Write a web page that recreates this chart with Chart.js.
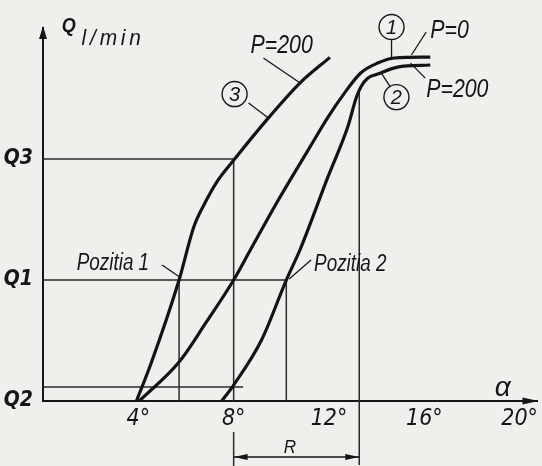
<!DOCTYPE html>
<html>
<head>
<meta charset="utf-8">
<script src="https://cdn.jsdelivr.net/npm/chart.js@4.4.1/dist/chart.umd.min.js"></script>
<style>
  html, body { margin: 0; padding: 0; background: #f0efeb; }
  #wrap { width: 542px; height: 466px; position: relative; }
</style>
</head>
<body>
<div id="wrap"><canvas id="flowChart"></canvas></div>
<script>
// angle alpha (deg) and flow Q (Q1 = 1, Q3 = 2)
const curve1Alpha = [4.04, 5.71, 6.83, 8.0, 8.70, 9.875, 11.125, 11.96, 12.65, 13.33, 14.04, 14.75, 16.25];
const curve1Q     = [0, 0.322, 0.645, 1.0, 1.248, 1.661, 2.074, 2.347, 2.545, 2.711, 2.793, 2.835, 2.843];   // P=0
const curve2Alpha = [7.5, 8.0, 9.17, 10.21, 10.78, 11.96, 12.79, 13.15, 13.35, 13.625, 14.04, 14.875, 16.25];
const curve2Q     = [0, 0.132, 0.504, 1.0, 1.248, 1.854, 2.267, 2.51, 2.60, 2.667, 2.702, 2.76, 2.777];    // P=200
const curve3Alpha = [3.92, 4.54, 5.71, 6.33, 6.75, 7.29, 8.0, 9.46, 10.79, 12.04];
const curve3Q     = [0, 0.314, 1.0, 1.44, 1.62, 1.81, 1.99, 2.34, 2.63, 2.84];                              // P=200

const levelQ1 = 1, levelQ2 = 0.116, levelQ3 = 2;
const pozitia1 = 5.71, pozitia2 = 10.21, alphaQ3 = 8, alphaR = 13.27;

const xTickValues = [4, 8, 12, 16, 20];
const xTickLabels = ['4°', '8°', '12°', '16°', '20°'];
const yTickValues = [0, 1, 2];
const yTickLabels = ['Q2', 'Q1', 'Q3'];

function pts(xs, ys) {
    return xs.map(function(x, i) { return {x: x, y: ys[i]}; });
}

function curve(xs, ys) {
    return {
        data: pts(xs, ys),
        showLine: true,
        borderColor: '#141414',
        borderWidth: 3.2,
        pointRadius: 0,
        cubicInterpolationMode: 'monotone'
    };
}

function guide(xs, ys, noClip) {
    return {
        data: pts(xs, ys),
        showLine: true,
        borderColor: '#2a2a2a',
        borderWidth: 1.5,
        pointRadius: 0,
        clip: noClip ? false : undefined
    };
}

const narrow = "'Liberation Sans', Arial, sans-serif";

function text(ctx, str, x, y, size, bold, sx) {
    ctx.save();
    ctx.translate(x, y);
    ctx.scale(sx || 0.82, 1);
    ctx.font = 'italic ' + (bold ? 'bold ' : '') + size + 'px ' + narrow;
    ctx.fillStyle = '#161616';
    ctx.textBaseline = 'alphabetic';
    ctx.fillText(str, 0, 0);
    ctx.restore();
}

function seg(ctx, x1, y1, x2, y2, w) {
    ctx.beginPath();
    ctx.lineWidth = w || 1.3;
    ctx.moveTo(x1, y1);
    ctx.lineTo(x2, y2);
    ctx.stroke();
}

function arrowHead(ctx, x, y, dx, dy, len, half) {
    ctx.beginPath();
    ctx.moveTo(x, y);
    ctx.lineTo(x - dx * len - dy * half, y - dy * len + dx * half);
    ctx.lineTo(x - dx * len + dy * half, y - dy * len - dx * half);
    ctx.closePath();
    ctx.fill();
}

const notes = {
    id: 'notes',
    afterDraw: function(chart) {
        const ctx = chart.ctx;
        const sx = chart.scales.x, sy = chart.scales.y;
        const X = function(a) { return sx.getPixelForValue(a); };
        const Y = function(q) { return sy.getPixelForValue(q); };
        const area = chart.chartArea;
        ctx.save();
        ctx.strokeStyle = '#161616';
        ctx.fillStyle = '#161616';

        // axis arrows
        arrowHead(ctx, area.left, area.top - 2, 0, -1, 13, 4);
        arrowHead(ctx, area.right + 1, area.bottom, 1, 0, 16, 3.5);

        // axis titles
        text(ctx, 'Q', X(0.79), Y(3.05), 20, true, 0.9);
        ctx.save();
        ctx.letterSpacing = '4px';
        text(ctx, 'l/min', X(1.62), Y(2.94), 22, false, 0.95);
        ctx.restore();
        text(ctx, 'α', X(18.96), Y(0.04), 28, false, 1);

        // P labels and leaders
        text(ctx, 'P=200', X(8.71), Y(2.876), 26);
        seg(ctx, X(9.25), Y(2.835), X(10.79), Y(2.628));
        text(ctx, 'P=0', X(16.25), Y(3.0), 26);
        seg(ctx, X(16.08), Y(3.05), X(15.46), Y(2.86));
        text(ctx, 'P=200', X(16.08), Y(2.512), 26);
        seg(ctx, X(16.04), Y(2.669), X(15.42), Y(2.793));

        // circled curve numbers
        const circles = [['3', 8.04, 2.537], ['1', 14.625, 3.091], ['2', 14.83, 2.512]];
        circles.forEach(function(c) {
            ctx.beginPath();
            ctx.lineWidth = 1.4;
            ctx.arc(X(c[1]), Y(c[2]), 12.5, 0, Math.PI * 2);
            ctx.stroke();
            ctx.save();
            ctx.textAlign = 'center';
            ctx.font = 'italic 20px ' + narrow;
            ctx.textBaseline = 'middle';
            ctx.fillText(c[0], X(c[1]), Y(c[2]) + 1);
            ctx.restore();
        });
        seg(ctx, X(8.625), Y(2.463), X(9.458), Y(2.339));
        seg(ctx, X(14.625), Y(2.983), X(14.625), Y(2.835));
        seg(ctx, X(14.17), Y(2.719), X(14.58), Y(2.595));

        // positions
        text(ctx, 'Pozitia 1', X(1.417), Y(1.083), 23);
        seg(ctx, X(5.0), Y(1.124), X(5.79), Y(1.017));
        text(ctx, 'Pozitia 2', X(11.375), Y(1.074), 23);
        seg(ctx, X(11.25), Y(1.165), X(10.33), Y(1.008));

        // R range
        const yR = Y(-0.463);
        seg(ctx, X(alphaQ3), yR, X(alphaR), yR, 1.6);
        arrowHead(ctx, X(alphaQ3), yR, -1, 0, 14, 3);
        arrowHead(ctx, X(alphaR), yR, 1, 0, 14, 3);
        text(ctx, 'R', X(10.1), Y(-0.43), 19, false, 0.9);
        ctx.restore();
    }
};

const flowCtx = document.getElementById('flowChart');
if (flowCtx) {
    new Chart(flowCtx, {
        type: 'scatter',
        data: {
            datasets: [
                curve(curve1Alpha, curve1Q),
                curve(curve2Alpha, curve2Q),
                curve(curve3Alpha, curve3Q),
                guide([0, alphaQ3], [levelQ3, levelQ3]),
                guide([alphaQ3, alphaQ3], [levelQ3, 0]),
                guide([alphaQ3, alphaQ3], [-0.256, -0.537], true),
                guide([0, pozitia2], [levelQ1, levelQ1]),
                guide([pozitia1, pozitia1], [levelQ1, 0]),
                guide([pozitia2, pozitia2], [levelQ1, 0]),
                guide([0, 8.4], [levelQ2, levelQ2]),
                guide([alphaR, alphaR], [2.56, -0.53], true)
            ]
        },
        options: {
            responsive: true,
            maintainAspectRatio: false,
            animation: false,
            layout: { padding: { top: 28, right: 1, left: 0, bottom: 0 } },
            plugins: {
                legend: { display: false },
                tooltip: { enabled: false }
            },
            scales: {
                x: {
                    type: 'linear',
                    min: 0,
                    max: 20.75,
                    grid: { display: false, drawTicks: false },
                    border: { display: true, color: '#161616', width: 2 },
                    afterBuildTicks: function(scale) {
                        scale.ticks = xTickValues.map(function(v) { return {value: v}; });
                    },
                    afterFit: function(scale) { scale.height = 65; },
                    ticks: {
                        padding: 4,
                        color: '#161616',
                        font: { family: "'Liberation Sans Narrow', 'DejaVu Sans Condensed', 'Liberation Sans'", size: 23, style: 'italic' },
                        callback: function(value) {
                            return xTickLabels[xTickValues.indexOf(value)];
                        }
                    }
                },
                y: {
                    type: 'linear',
                    min: 0,
                    max: 3.083,
                    grid: { display: false, drawTicks: false },
                    border: { display: true, color: '#161616', width: 2 },
                    afterBuildTicks: function(scale) {
                        scale.ticks = yTickValues.map(function(v) { return {value: v}; });
                    },
                    afterFit: function(scale) { scale.width = 43; },
                    ticks: {
                        padding: 10,
                        color: '#161616',
                        font: { family: "'Liberation Sans Narrow', 'DejaVu Sans Condensed', 'Liberation Sans'", size: 21, style: 'italic', weight: 'bold' },
                        callback: function(value) {
                            return yTickLabels[yTickValues.indexOf(value)];
                        }
                    }
                }
            }
        },
        plugins: [notes]
    });
}
</script>
</body>
</html>
